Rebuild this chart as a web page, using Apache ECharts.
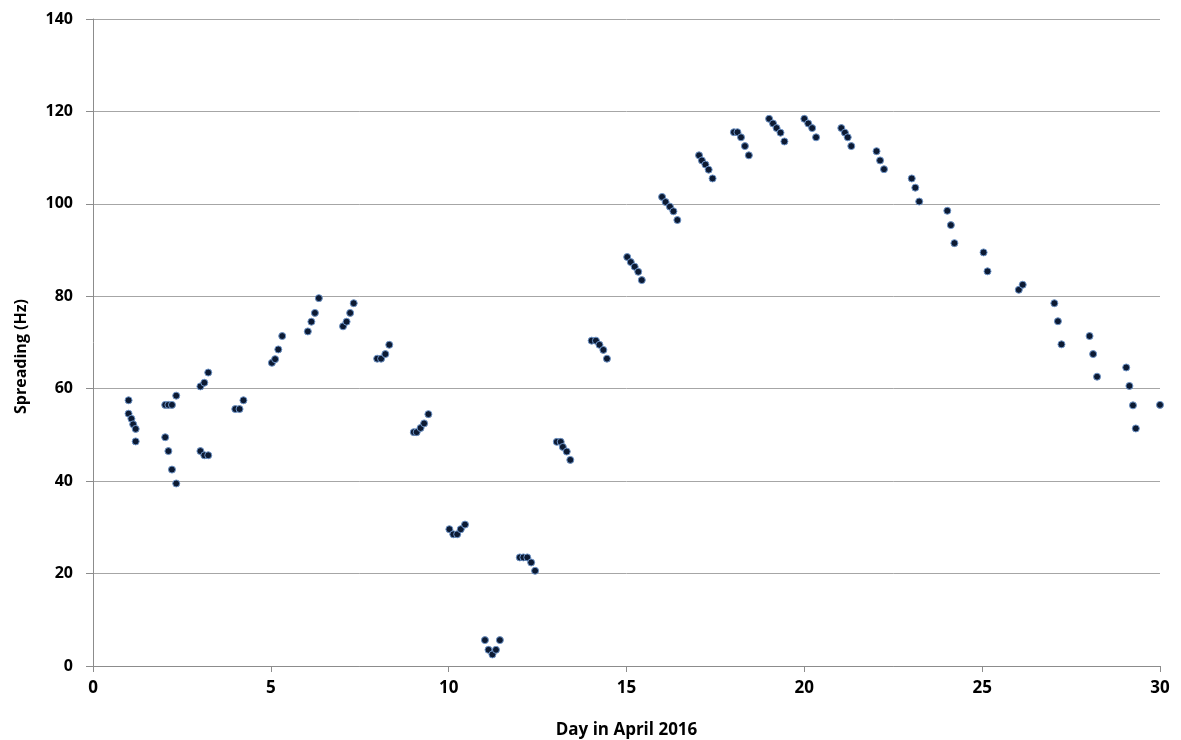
<!DOCTYPE html>
<html>
<head>
<meta charset="utf-8">
<script src="https://cdn.jsdelivr.net/npm/echarts@6/dist/echarts.min.js"></script>
<style>html,body{margin:0;padding:0;background:#fff;overflow:hidden}#c{width:1181px;height:740px}</style>
</head>
<body>
<div id="c"></div>
<script>
const dayValues = [
  1.0,1.0,1.08,1.13,1.2,1.2,
  2.03,2.12,2.22,2.34, 2.03,2.12,2.22,2.34,
  3.02,3.13,3.24, 3.02,3.13,3.24,
  4.0,4.12,4.23,
  5.03,5.12,5.21,5.32,
  6.04,6.14,6.24,6.35,
  7.03,7.13,7.23,7.33,
  7.99,8.1,8.22,8.33,
  9.02,9.1,9.21,9.31,9.43,
  10.02,10.13,10.24,10.34,10.46,
  11.02,11.12,11.23,11.33,11.44,
  12.0,12.1,12.21,12.32,12.43,
  13.04,13.15,13.21,13.32,13.42,
  14.02,14.14,14.24,14.35,14.45,
  15.02,15.12,15.23,15.33,15.43,
  16.0,16.1,16.22,16.32,16.43,
  17.04,17.12,17.22,17.31,17.42,
  18.02,18.12,18.22,18.33,18.44,
  19.01,19.12,19.22,19.33,19.44,
  20.0,20.11,20.22,20.33,
  21.04,21.14,21.22,21.32,
  22.03,22.13,22.24,
  23.02,23.12,23.23,
  24.02,24.12,24.22,
  25.04,25.15,
  26.03,26.14,
  27.03,27.13,27.23,
  28.02,28.12,28.23,
  29.05,29.14,29.24,29.32,
  30.0
];
const spreadingValues = [
  57.5,54.6,53.5,52.3,51.3,48.6,
  56.5,56.5,56.5,58.5, 49.5,46.5,42.5,39.5,
  60.5,61.3,63.5, 46.5,45.6,45.6,
  55.6,55.6,57.5,
  65.6,66.4,68.5,71.4,
  72.4,74.5,76.4,79.6,
  73.5,74.5,76.4,78.5,
  66.5,66.5,67.5,69.5,
  50.6,50.6,51.5,52.5,54.5,
  29.6,28.5,28.5,29.6,30.6,
  5.6,3.5,2.5,3.5,5.6,
  23.5,23.5,23.5,22.4,20.6,
  48.5,48.5,47.4,46.4,44.6,
  70.4,70.4,69.5,68.4,66.5,
  88.5,87.4,86.4,85.3,83.5,
  101.5,100.4,99.4,98.4,96.5,
  110.5,109.4,108.5,107.4,105.5,
  115.5,115.5,114.4,112.5,110.5,
  118.4,117.4,116.4,115.4,113.5,
  118.4,117.4,116.4,114.4,
  116.4,115.4,114.4,112.5,
  111.4,109.4,107.5,
  105.5,103.5,100.5,
  98.5,95.4,91.5,
  89.5,85.4,
  81.4,82.5,
  78.5,74.6,69.6,
  71.4,67.5,62.6,
  64.6,60.6,56.4,51.4,
  56.5
];
const xTitle = 'Day in April 2016';
const yTitle = 'Spreading (Hz)';

const points = dayValues.map((d, i) => [d, spreadingValues[i]]);
const font = "'Liberation Sans Narrow', 'Open Sans', sans-serif";

const chart = echarts.init(document.getElementById('c'), null, {renderer: 'canvas'});
chart.setOption({
  animation: false,
  backgroundColor: '#ffffff',
  grid: {left: 93, right: 21, top: 19, bottom: 74, containLabel: false, outerBoundsMode: 'none'},
  xAxis: {
    type: 'value', min: 0, max: 30, interval: 5,
    name: xTitle, nameLocation: 'middle', nameGap: 56,
    nameTextStyle: {color: '#000', fontWeight: 'bold', fontSize: 17, fontFamily: font},
    axisLine: {show: true, lineStyle: {color: '#8c8c8c', width: 1}},
    axisTick: {show: true, inside: false, length: 6, lineStyle: {color: '#8c8c8c'}},
    axisLabel: {color: '#000', fontWeight: 'bold', fontSize: 17, fontFamily: font, margin: 14},
    splitLine: {show: false}
  },
  yAxis: {
    type: 'value', min: 0, max: 140, interval: 20,
    name: yTitle, nameLocation: 'middle', nameGap: 64, nameRotate: 90,
    nameTextStyle: {color: '#000', fontWeight: 'bold', fontSize: 16, fontFamily: font, padding: [0, 0, 0, -28]},
    axisLine: {show: true, lineStyle: {color: '#8c8c8c', width: 1}},
    axisTick: {show: true, inside: false, length: 7, lineStyle: {color: '#8c8c8c'}},
    axisLabel: {color: '#000', fontWeight: 'bold', fontSize: 16, fontFamily: "'Open Sans', sans-serif", margin: 20},
    splitLine: {show: true, lineStyle: {color: '#a6a6a6', width: 1}}
  },
  series: [{
    type: 'scatter',
    data: points,
    symbol: 'circle',
    symbolSize: 7,
    itemStyle: {color: '#0c1a33', borderColor: '#6f95c8', borderWidth: 1, opacity: 1}
  }]
});
</script>
</body>
</html>
